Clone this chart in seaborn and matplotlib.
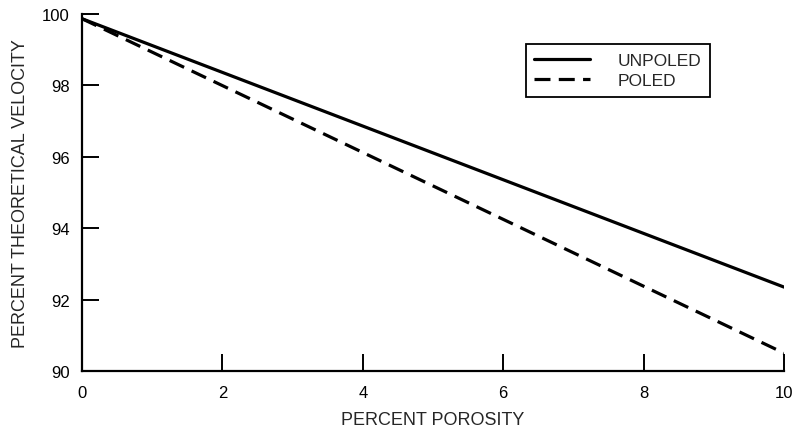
import matplotlib
matplotlib.use("Agg")
import matplotlib.pyplot as plt
import seaborn as sns
import pandas as pd

# -----------------------------
# Data
# -----------------------------
porosity = [0, 10]
unpoled = [99.87, 92.35]
poled = [99.87, 90.5]

df = pd.DataFrame({
    "porosity": porosity * 2,
    "velocity": unpoled + poled,
    "state": ["UNPOLED"] * len(porosity) + ["POLED"] * len(porosity),
})

sns.set_style("ticks")
plt.rcParams["font.family"] = ["Liberation Sans", "DejaVu Sans"]
plt.rcParams["font.size"] = 12

fig = plt.figure(figsize=(7.97, 4.31), dpi=100)
ax = fig.add_axes([0.1029, 0.137, 0.8808, 0.828])

sns.lineplot(data=df[df.state == "UNPOLED"], x="porosity", y="velocity",
             color="black", linewidth=2.3, label="UNPOLED", ax=ax)
sns.lineplot(data=df[df.state == "POLED"], x="porosity", y="velocity",
             color="black", linewidth=2.3, label="POLED", ax=ax)
ax.lines[-1].set_dashes((5, 2.6))

ax.set_xlim(0, 10)
ax.set_ylim(90, 100)
ax.set_xticks([0, 2, 4, 6, 8, 10])
ax.set_yticks([90, 92, 94, 96, 98, 100])

for side in ["top", "right"]:
    ax.spines[side].set_visible(False)
for side in ["left", "bottom"]:
    ax.spines[side].set_linewidth(1.6)
    ax.spines[side].set_color("black")

ax.tick_params(direction="in", length=12.5, width=1.4, colors="black",
               labelsize=12)
ax.tick_params(axis="y", pad=9)
ax.tick_params(axis="x", pad=10)

ax.set_xlabel("PERCENT POROSITY", fontsize=13, labelpad=8)
ax.set_ylabel("PERCENT THEORETICAL VELOCITY", fontsize=13, labelpad=9)

leg = ax.legend(loc="upper right", bbox_to_anchor=(0.8946, 0.916),
                borderaxespad=0, frameon=True, fancybox=False,
                handlelength=3.2, handletextpad=1.6, borderpad=0.5,
                labelspacing=0.3, fontsize=12.5)
leg.get_frame().set_edgecolor("black")
leg.get_frame().set_linewidth(1.3)
leg.get_frame().set_alpha(1)

fig.savefig("out.png", dpi=100)
